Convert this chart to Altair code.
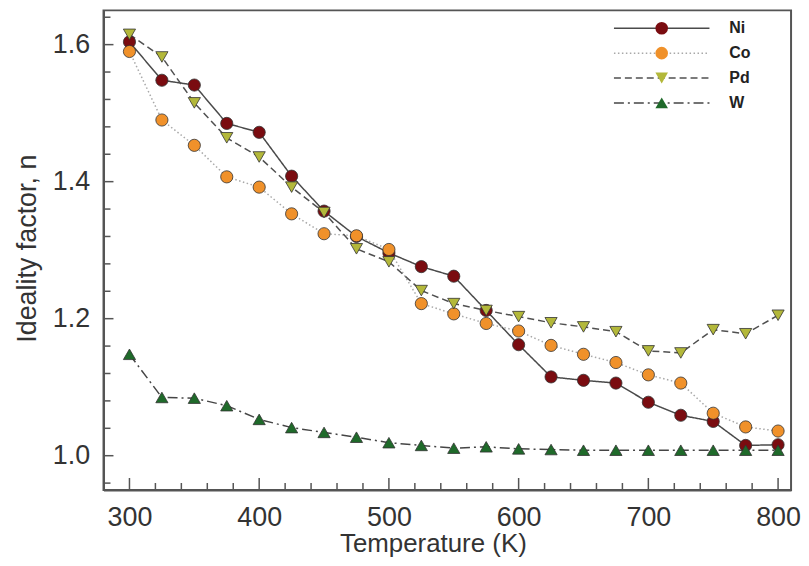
import altair as alt
import pandas as pd

temps = [300, 325, 350, 375, 400, 425, 450, 475, 500, 525, 550,
         575, 600, 625, 650, 675, 700, 725, 750, 775, 800]
series_names = ["Ni", "Co", "Pd", "W"]
ni = [1.604, 1.548, 1.541, 1.485, 1.472, 1.408, 1.357, 1.320, 1.296, 1.276, 1.262,
      1.212, 1.162, 1.115, 1.110, 1.106, 1.078, 1.059, 1.050, 1.015, 1.016]
co = [1.590, 1.490, 1.453, 1.407, 1.392, 1.353, 1.324, 1.321, 1.301, 1.222, 1.207,
      1.193, 1.182, 1.161, 1.148, 1.136, 1.118, 1.106, 1.062, 1.042, 1.036]
pd_vals = [1.615, 1.582, 1.515, 1.464, 1.436, 1.392, 1.355, 1.302, 1.283, 1.241, 1.222,
           1.212, 1.203, 1.194, 1.188, 1.181, 1.153, 1.150, 1.184, 1.178, 1.205]
w = [1.148, 1.085, 1.084, 1.073, 1.053, 1.041, 1.034, 1.027, 1.019, 1.015, 1.011,
     1.013, 1.010, 1.009, 1.008, 1.008, 1.008, 1.008, 1.008, 1.008, 1.008]

fill_colors = ["#7a0c10", "#f0912a", "#b3b83a", "#1f6a2a"]
shapes = ["circle", "circle", "triangle-down", "triangle-up"]
line_colors = ["#4a4a4a", "#a8a8a8", "#505050", "#454545"]
line_dashes = [[1, 0], [1.5, 2.5], [7, 4], [10, 4, 2, 4]]

x_major = [300, 400, 500, 600, 700, 800]
x_minor = [320, 340, 360, 380, 420, 440, 460, 480, 520, 540, 560, 580,
           620, 640, 660, 680, 720, 740, 760, 780]
y_major = [1.0, 1.2, 1.4, 1.6]
y_minor = [0.96, 1.04, 1.08, 1.12, 1.16, 1.24, 1.28, 1.32, 1.36,
           1.44, 1.48, 1.52, 1.56, 1.64]

rows = []
for idx, (name, vals) in enumerate(zip(series_names, [ni, co, pd_vals, w])):
    for t, v in zip(temps, vals):
        rows.append({"T": t, "n": v, "series": name, "marker": name, "idx": idx})
df = pd.DataFrame(rows)

FONT = "Liberation Sans"
PLOT_W, PLOT_H = 691, 482
x_scale = alt.Scale(domain=[280, 810], nice=False, zero=False)
y_scale = alt.Scale(domain=[0.95, 1.65], nice=False, zero=False)
series_sort = alt.EncodingSortField(field="idx", op="min")

line_legend = alt.Legend(
    orient="none", legendX=553, legendY=10, title=None,
    symbolType="M-8,0L8,0", symbolSize=144, symbolStrokeWidth=1.5,
    symbolFillColor="transparent",
    labelFontSize=16, labelFontWeight="bold", labelFont=FONT, labelColor="#222",
    labelOffset=60, rowPadding=9, padding=0,
)
point_legend = alt.Legend(
    orient="none", legendX=553, legendY=10, title=None,
    symbolSize=160, symbolStrokeColor="#333", symbolStrokeWidth=0.8, symbolOpacity=1,
    labelFontSize=16, labelFontWeight="bold", labelFont=FONT, labelOpacity=0,
    rowPadding=9, padding=0,
)

lines = alt.Chart(df).mark_line(strokeWidth=1.5).encode(
    x=alt.X("T:Q", scale=x_scale,
            axis=alt.Axis(values=x_major, title="Temperature (K)", ticks=False, tickSize=0,
                          grid=False, labelPadding=15, titleY=62, titleX=331,
                          titleBaseline="alphabetic", titleFontSize=26)),
    y=alt.Y("n:Q", scale=y_scale,
            axis=alt.Axis(values=y_major, format=".1f", title="Ideality factor, n",
                          ticks=False, tickSize=0, grid=False, labelPadding=14,
                          titleX=-68, titleY=PLOT_H / 2 - 2, titleBaseline="alphabetic")),
    stroke=alt.Stroke("series:N", sort=series_sort, scale=alt.Scale(range=line_colors),
                      legend=line_legend),
    strokeDash=alt.StrokeDash("series:N", sort=series_sort, scale=alt.Scale(range=line_dashes),
                              legend=line_legend),
    order="T:Q",
)

points = alt.Chart(df).mark_point(filled=True, size=150, strokeWidth=0.8,
                                  opacity=1).encode(
    x=alt.X("T:Q", scale=x_scale),
    y=alt.Y("n:Q", scale=y_scale),
    color=alt.Color("marker:N", scale=alt.Scale(domain=series_names, range=fill_colors),
                    legend=point_legend),
    shape=alt.Shape("marker:N", scale=alt.Scale(domain=series_names, range=shapes),
                    legend=point_legend),
    stroke=alt.value("#333"),
)

ytick_major = alt.Chart(pd.DataFrame({"n": y_major})).mark_rule(color="#555", strokeWidth=1.5).encode(
    y=alt.Y("n:Q", scale=y_scale), x=alt.value(0), x2=alt.value(10))
ytick_minor = alt.Chart(pd.DataFrame({"n": y_minor})).mark_rule(color="#555", strokeWidth=1.5).encode(
    y=alt.Y("n:Q", scale=y_scale), x=alt.value(0), x2=alt.value(7))
xtick_major = alt.Chart(pd.DataFrame({"T": x_major})).mark_rule(color="#555", strokeWidth=1.5).encode(
    x=alt.X("T:Q", scale=x_scale), y=alt.value(PLOT_H), y2=alt.value(PLOT_H - 12))
xtick_minor = alt.Chart(pd.DataFrame({"T": x_minor})).mark_rule(color="#555", strokeWidth=1.5).encode(
    x=alt.X("T:Q", scale=x_scale), y=alt.value(PLOT_H), y2=alt.value(PLOT_H - 7))

chart = alt.layer(lines, ytick_major, ytick_minor, xtick_major, xtick_minor, points).properties(
    width=PLOT_W, height=PLOT_H,
    autosize=alt.AutoSizeParams(type="none"),
    padding={"left": 96, "top": 1, "right": 10, "bottom": 67},
    background="white",
).configure_view(
    stroke="#555", strokeWidth=2
).configure_axis(
    domainColor="#555", domainWidth=2,
    labelFont=FONT, labelFontSize=27, labelColor="#333",
    titleFont=FONT, titleFontSize=27, titleColor="#333", titleFontWeight="normal",
)

chart.save("out.html", embed_options={"renderer": "svg", "actions": False})
